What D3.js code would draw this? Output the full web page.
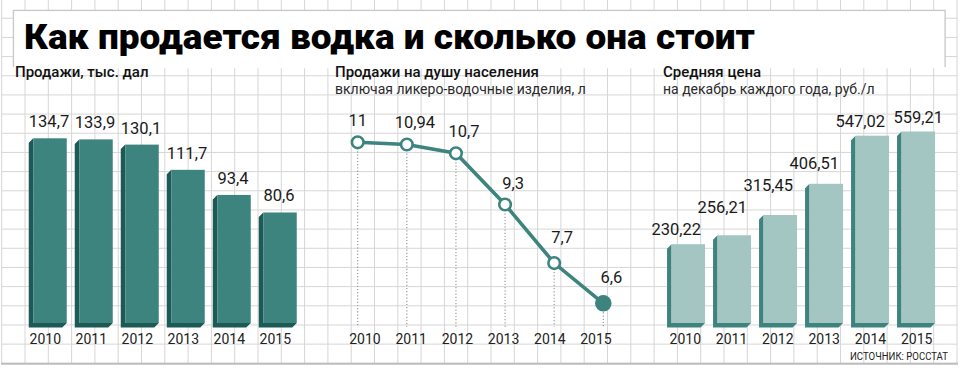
<!DOCTYPE html>
<html>
<head>
<meta charset="utf-8">
<script src="https://cdn.jsdelivr.net/npm/d3@7"></script>
<style>
  body { margin: 0; background: #fff; }
  svg { display: block; font-family: Roboto, "Noto Sans", sans-serif; }
</style>
</head>
<body>
<svg id="chart" width="960" height="368"></svg>
<script>
//---------------- data ----------------//
var years = ['2010', '2011', '2012', '2013', '2014', '2015'];
var sales = [134.7, 133.9, 130.1, 111.7, 93.4, 80.6];        // тыс. дал
var perCapita = [11, 10.94, 10.7, 9.3, 7.7, 6.6];            // л
var price = [230.22, 256.21, 315.45, 406.51, 547.02, 559.21]; // руб./л

var title = 'Как продается водка и сколько она стоит';
var heads = [
  ['Продажи, тыс. дал', ''],
  ['Продажи на душу населения', 'включая ликеро-водочные изделия, л'],
  ['Средняя цена', 'на декабрь каждого года, руб./л']
];
var source = 'ИСТОЧНИК: РОССТАТ';
//--------------------------------------//

var width = 960, height = 368;
var teal = '#3e847e', darkTeal = '#1d5a55', lightTeal = '#a4c6c3';
var comma = function(v){ return String(v).replace('.', ','); };

var svg = d3.select('#chart');

//---------------- grid background ----------------//
var grid = svg.append('g').attr('class', 'grid');
d3.range(0, 42).forEach(function(k){
  var x = 1.7 + 23.3 * k;
  grid.append('line').attr('x1', x).attr('x2', x).attr('y1', 0).attr('y2', 363.3);
});
d3.range(0, 20).forEach(function(k){
  var y = 363.3 - 19.17 * k;
  grid.append('line').attr('x1', 1.7).attr('x2', 957.3).attr('y1', y).attr('y2', y);
});
grid.selectAll('line').attr('stroke', '#d6d6d6').attr('stroke-width', 1);
grid.append('line').attr('x1', 1).attr('x2', 958).attr('y1', 363.8).attr('y2', 363.8)
    .attr('stroke', '#bcbcbc').attr('stroke-width', 2);

//---------------- title ----------------//
svg.append('path')
   .attr('d', 'M13.5,67 V10.5 H945 V67')
   .attr('fill', '#fff').attr('stroke', '#c8c8c8').attr('stroke-width', 1.5);
svg.append('rect').attr('x', 14.3).attr('y', 11.3).attr('width', 930).attr('height', 57).attr('fill', '#fff');
svg.append('text')
   .attr('x', 24).attr('y', 48.5)
   .attr('font-size', 35).attr('font-weight', 900).attr('fill', '#000')
   .attr('textLength', 731).attr('lengthAdjust', 'spacingAndGlyphs')
   .text(title);

//---------------- panel headings ----------------//
var headX = [15, 335, 663];
heads.forEach(function(h, i){
  svg.append('text').attr('x', headX[i]).attr('y', 77)
     .attr('font-size', 15).attr('font-weight', 500).attr('fill', '#111').text(h[0]);
  if (h[1]) svg.append('text').attr('x', headX[i]).attr('y', 93.5)
     .attr('font-size', 14).attr('fill', '#2a2a2a').text(h[1]);
});

//---------------- year labels ----------------//
[[45.3, 275.3], [365, 596], [685.3, 916.7]].forEach(function(r){
  var xs = d3.scalePoint().domain(years).range(r);
  svg.append('g').selectAll('text').data(years).enter().append('text')
     .attr('x', function(d){ return xs(d); }).attr('y', 344)
     .attr('text-anchor', 'middle').attr('font-size', 14).attr('fill', '#222')
     .text(function(d){ return d; });
});

//---------------- 3d bars helper ----------------//
var barW = 33.5, depth = 4.5, base = 323;
function drawBars(g, values, xScale, yScale, front, side){
  var bars = g.selectAll('g.bar').data(values).enter().append('g').attr('class', 'bar');
  bars.append('path')
      .attr('fill', side)
      .attr('d', function(d, i){
        var x = xScale(years[i]) - barW / 2, t = yScale(d);
        return 'M' + x + ',' + t + 'L' + (x - depth) + ',' + (t + depth) +
               'L' + (x - depth) + ',' + (base + depth) + 'L' + (x + barW - depth) + ',' + (base + depth) +
               'L' + (x + barW) + ',' + base + 'L' + x + ',' + base + 'Z';
      });
  bars.append('rect')
      .attr('fill', front)
      .attr('x', function(d, i){ return xScale(years[i]) - barW / 2; })
      .attr('y', function(d){ return yScale(d); })
      .attr('width', barW)
      .attr('height', function(d){ return base - yScale(d); });
}

//---------------- panel 1: sales ----------------//
var x1 = d3.scalePoint().domain(years).range([50, 280]);
var y1 = d3.scaleLinear().domain([0, 134.7]).range([base, 138.3]);
var p1 = svg.append('g');
drawBars(p1, sales, x1, y1, teal, darkTeal);
p1.selectAll('text.val').data(sales).enter().append('text')
  .attr('x', function(d, i){ return x1(years[i]) - 1; })
  .attr('y', function(d){ return y1(d) - 11; })
  .attr('text-anchor', 'middle').attr('font-size', 16.5).attr('fill', '#1a1a1a')
  .text(comma);

//---------------- panel 2: per capita ----------------//
var x2 = d3.scalePoint().domain(years).range([357.7, 603.3]);
var y2 = d3.scaleLinear().domain([6.6, 11]).range([303.3, 142.3]);
var p2 = svg.append('g');
p2.selectAll('line.drop').data(perCapita).enter().append('line')
  .attr('x1', function(d, i){ return x2(years[i]); })
  .attr('x2', function(d, i){ return x2(years[i]); })
  .attr('y1', function(d){ return y2(d) + 9; })
  .attr('y2', 327)
  .attr('stroke', '#9a9a9a').attr('stroke-width', 1.2).attr('stroke-dasharray', '1.2,2');
p2.append('path')
  .datum(perCapita)
  .attr('fill', 'none').attr('stroke', teal).attr('stroke-width', 3.6)
  .attr('d', d3.line().x(function(d, i){ return x2(years[i]); }).y(function(d){ return y2(d); }));
p2.selectAll('circle').data(perCapita).enter().append('circle')
  .attr('cx', function(d, i){ return x2(years[i]); })
  .attr('cy', function(d){ return y2(d); })
  .attr('r', function(d, i){ return i === perCapita.length - 1 ? 7 : 5.8; })
  .attr('fill', function(d, i){ return i === perCapita.length - 1 ? teal : '#fff'; })
  .attr('stroke', teal).attr('stroke-width', 2.6);
p2.selectAll('text.val').data(perCapita).enter().append('text')
  .attr('x', function(d, i){ return x2(years[i]) + (i ? 8 : 0); })
  .attr('y', function(d, i){ return y2(d) - (i > 3 ? 20 : 16); })
  .attr('text-anchor', 'middle').attr('font-size', 16.5).attr('fill', '#1a1a1a')
  .text(comma);

//---------------- panel 3: price ----------------//
var x3 = d3.scalePoint().domain(years).range([688.3, 918.3]);
var y3 = d3.scaleLinear().domain([0, 559.21]).range([base, 131.5]);
var p3 = svg.append('g');
drawBars(p3, price, x3, y3, lightTeal, teal);
// labels sit left of the bar and stack up when they would collide with the previous one
var labW = 52, prev = null;
var lab3 = price.map(function(d, i){
  var x = x3(years[i]) - (i === price.length - 1 ? 0 : 12);
  var y = y3(d) - 9;
  if (prev && Math.abs(x - prev.x) < labW) y = Math.min(y, prev.y - 22);
  prev = {x: x, y: y};
  return prev;
});
p3.selectAll('text.val').data(price).enter().append('text')
  .attr('x', function(d, i){ return lab3[i].x; })
  .attr('y', function(d, i){ return lab3[i].y; })
  .attr('text-anchor', 'middle').attr('font-size', 16.5).attr('fill', '#1a1a1a')
  .text(comma);

//---------------- source ----------------//
svg.append('text').attr('x', 850).attr('y', 359.5)
   .attr('font-size', 10.5).attr('fill', '#222')
   .attr('textLength', 98).attr('lengthAdjust', 'spacingAndGlyphs')
   .text(source);
</script>
</body>
</html>
